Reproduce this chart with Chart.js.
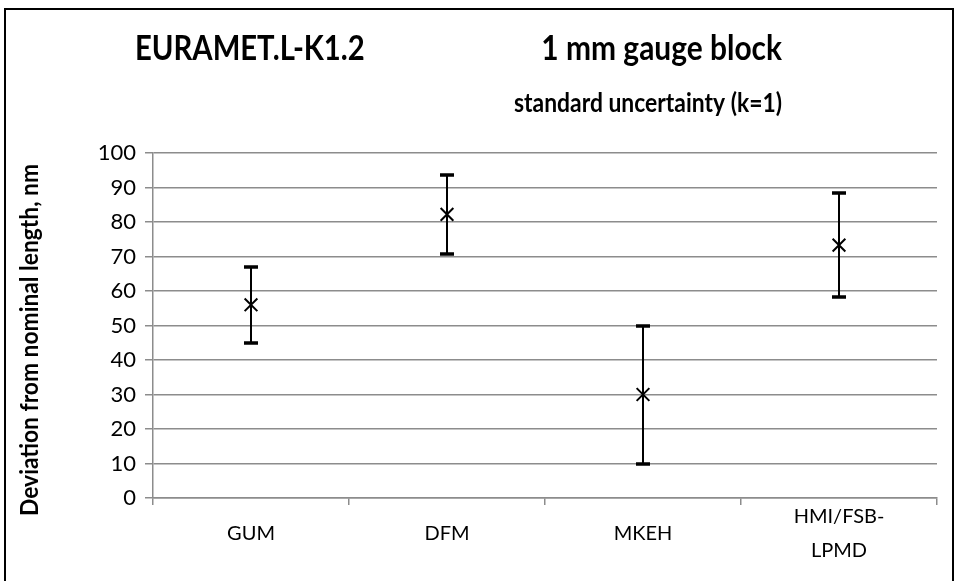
<!DOCTYPE html>
<html>
<head>
<meta charset="utf-8">
<script src="https://cdn.jsdelivr.net/npm/chart.js@4/dist/chart.umd.min.js"></script>
<style>
  html, body { margin: 0; padding: 0; background: #fff; }
  canvas { display: block; }
</style>
</head>
<body>
<canvas id="chart" width="954" height="581"></canvas>
<script>
// data
const labs = ['GUM', 'DFM', 'MKEH', ['HMI/FSB-', 'LPMD']];
const deviation = [56, 82.2, 30, 73.3];     // nm
const uncertainty = [11, 11.5, 20, 15];    // standard uncertainty, k=1
const yMin = 0, yMax = 100, yStep = 10;

const gridColor = '#8c8c8c';

// error bars from the y scale
const errorBars = {
    id: 'errorBars',
    afterDatasetsDraw(chart) {
        const { ctx, scales: { x, y } } = chart;
        ctx.save();
        ctx.strokeStyle = '#000';
        deviation.forEach((v, i) => {
            const px = Math.round(x.getPixelForValue(i));
            const top = Math.round(y.getPixelForValue(v + uncertainty[i]));
            const bot = Math.round(y.getPixelForValue(v - uncertainty[i]));
            ctx.lineWidth = 2;
            ctx.beginPath();
            ctx.moveTo(px, top);
            ctx.lineTo(px, bot);
            ctx.stroke();
            ctx.lineWidth = 3.5;
            ctx.beginPath();
            ctx.moveTo(px - 7, top); ctx.lineTo(px + 7, top);
            ctx.moveTo(px - 7, bot); ctx.lineTo(px + 7, bot);
            ctx.stroke();
        });
        ctx.restore();
    }
};

// squeezed text, Calibri is narrower than Lato
function narrowText(ctx, txt, x, y, sx) {
    ctx.save();
    ctx.translate(x, y);
    ctx.scale(sx, 1);
    ctx.fillText(txt, 0, 0);
    ctx.restore();
}

// titles and the outer frame
const decor = {
    id: 'decor',
    afterDraw(chart) {
        const { ctx } = chart;
        ctx.save();
        ctx.strokeStyle = '#000';
        ctx.lineWidth = 2;
        ctx.strokeRect(5, 9, 948, 600);
        ctx.fillStyle = '#000';
        ctx.textBaseline = 'alphabetic';
        ctx.font = 'bold 34px Lato';
        ctx.textAlign = 'left';
        narrowText(ctx, 'EURAMET.L-K1.2', 135, 60, 0.86);
        ctx.textAlign = 'right';
        narrowText(ctx, '1 mm gauge block', 782, 60, 0.88);
        ctx.font = 'bold 26px Lato';
        narrowText(ctx, 'standard uncertainty (k=1)', 782, 112, 0.88);

        // axis title
        ctx.save();
        ctx.translate(30, 340);
        ctx.rotate(-Math.PI / 2);
        ctx.scale(0.95, 1);
        ctx.font = 'bold 24px Lato';
        ctx.textAlign = 'center';
        ctx.textBaseline = 'middle';
        ctx.fillText('Deviation from nominal length, nm', 0, 0);
        ctx.restore();
        ctx.restore();
    }
};

new Chart(document.getElementById('chart'), {
    type: 'line',
    data: {
        labels: labs,
        datasets: [{
            data: deviation,
            showLine: false,
            pointStyle: 'crossRot',
            pointRadius: 9,
            pointBorderWidth: 2,
            borderColor: '#000',
            backgroundColor: '#000',
        }],
    },
    options: {
        responsive: false,
        animation: false,
        layout: { padding: { top: 153, right: 17, left: 0, bottom: 0 } },
        plugins: {
            legend: { display: false },
            tooltip: { enabled: false },
        },
        scales: {
            x: {
                offset: true,
                afterFit: (s) => { s.height = 83; },
                grid: {
                    offset: true,
                    drawOnChartArea: false,
                    color: gridColor,
                    lineWidth: 1.5,
                    tickLength: 7,
                },
                border: { color: gridColor, width: 1.5 },
                ticks: {
                    color: '#000',
                    font: { family: 'Lato', size: 20, lineHeight: 1.7 },
                    padding: 12,
                    crossAlign: 'center',
                    maxRotation: 0,
                },
            },
            y: {
                min: yMin,
                max: yMax,
                afterFit: (s) => { s.width = 153; },
                grid: { color: gridColor, lineWidth: 1.5, tickLength: 8 },
                border: { color: gridColor, width: 1.5 },
                ticks: {
                    stepSize: yStep,
                    color: '#000',
                    font: { family: 'Lato', size: 22 },
                    padding: 9,
                },
            },
        },
    },
    plugins: [errorBars, decor],
});
</script>
</body>
</html>
